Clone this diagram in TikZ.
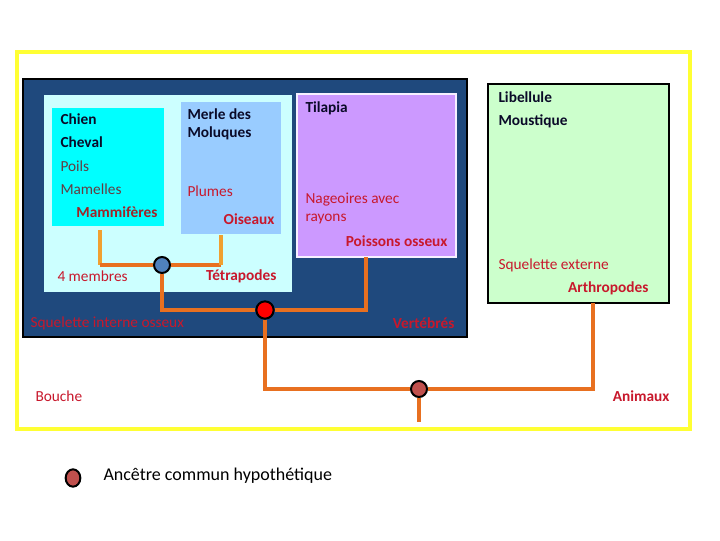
\documentclass[tikz,border=0pt]{standalone}
\usepackage{fontspec}
\setmainfont{Carlito}
\usetikzlibrary{shapes.geometric}
\definecolor{cadre}{RGB}{255,255,51}
\definecolor{bleunuit}{RGB}{31,73,125}
\definecolor{cyanpale}{RGB}{204,255,255}
\definecolor{cyanvif}{RGB}{0,255,255}
\definecolor{bleuciel}{RGB}{153,204,255}
\definecolor{mauve}{RGB}{204,153,255}
\definecolor{vertpale}{RGB}{204,255,204}
\definecolor{orfonce}{RGB}{232,112,32}
\definecolor{orclair}{RGB}{240,160,48}
\definecolor{rouget}{RGB}{200,24,44}
\definecolor{rougesombre}{RGB}{160,36,40}
\definecolor{brunpoil}{RGB}{100,60,65}
\definecolor{encre}{RGB}{10,10,40}
\definecolor{brique}{RGB}{192,80,77}
\definecolor{acier}{RGB}{79,129,189}

\tikzset{every picture/.style={line width=0.75pt}}
\tikzset{
  texte/.style={inner sep=0pt,font=\fontsize{11.5}{14}\selectfont},
  espece/.style={texte,anchor=west,text=encre,font=\fontsize{11.5}{14}\selectfont\bfseries},
  caractere/.style={texte,anchor=west,text=rouget},
  poil/.style={texte,anchor=west,text=brunpoil},
  groupe/.style={texte,anchor=east,text=rouget,font=\fontsize{11.5}{14}\selectfont\bfseries},
  ancetre/.style={circle,draw=black,line width=1.5,minimum size=12,inner sep=0pt},
  branche/.style={draw=orfonce,line width=3},
  tige/.style={draw=orclair,line width=3}
}

\begin{document}
\begin{tikzpicture}[x=0.75pt,y=0.75pt,yscale=-1,xscale=1]
	\useasboundingbox (0,0) rectangle (720,540);

	%Shape: Rectangle [cadre]
	\draw [draw=cadre,line width=3.5,fill=white] (17,52) rectangle (690,429) ;
	%Shape: Rectangle [vertebres]
	\draw [draw=black,line width=1.5,fill=bleunuit] (23,79) rectangle (467,337) ;
	%Shape: Rectangle [tetrapodes]
	\fill [cyanpale] (44,95) rectangle (292,292) ;
	%Shape: Rectangle [mammiferes]
	\fill [cyanvif] (52,108) rectangle (164,226) ;
	%Shape: Rectangle [oiseaux]
	\fill [bleuciel] (181,102) rectangle (281,234) ;
	%Shape: Rectangle [poissons]
	\draw [draw=white!85!mauve,line width=1.5,fill=mauve] (297,94) rectangle (456,257) ;
	%Shape: Rectangle [arthropodes]
	\draw [draw=black,line width=1.5,fill=vertpale] (488,84) rectangle (669,303) ;

	% Ancetres
	\node [ancetre,fill=acier] (anc_tetra) at (162,265) {};
	\node [ancetre,fill=red,minimum size=13] (anc_vert) at (265,310) {};
	\node [ancetre,fill=brique] (anc_anim) at (419,389) {};
	\coordinate (mam) at (100,230);
	\coordinate (ois) at (221,235);
	\coordinate (poi) at (366,257);
	\coordinate (arth) at (593,303);
	\coordinate (racine) at (419,422);

	% Branches
	\draw [tige] (mam) -- (mam |- anc_tetra) ;
	\draw [branche] (mam |- anc_tetra) -- (anc_tetra) ;
	\draw [branche] (anc_tetra) -- (ois |- anc_tetra) ;
	\draw [tige] (ois |- anc_tetra) -- (ois) ;
	\draw [branche] (anc_tetra) |- (anc_vert) ;
	\draw [branche] (anc_vert) -| (poi) ;
	\draw [branche] (anc_vert) |- (anc_anim) ;
	\draw [branche] (anc_anim) -| (arth) ;
	\draw [branche] (anc_anim) -- (racine) ;

	% Text Node
	\node [espece] (chien) at (60,119) {Chien};
	\node [espece] (cheval) at (60,142) {Cheval};
	\node [poil] (poils) at (60,166) {Poils};
	\node [poil] (mamelles) at (60,189) {Mamelles};
	\node [groupe,text=rougesombre] (mammiferes) at (158,212) {Mammifères};
	% Text Node
	\node [espece] (merle) at (187,114) {Merle des};
	\node [espece] (moluques) at (187,133) {Moluques};
	\node [caractere] (plumes) at (187,191) {Plumes};
	\node [groupe] (oiseaux) at (275,219) {Oiseaux};
	% Text Node
	\node [espece] (tilapia) at (305,108) {Tilapia};
	\node [caractere] (nageoires) at (305,200) {Nageoires avec};
	\node [caractere] (rayons) at (305,219) {rayons};
	\node [groupe] (poissons) at (448,241) {Poissons osseux};
	% Text Node
	\node [espece] (libellule) at (498,97) {Libellule};
	\node [espece] (moustique) at (498,121) {Moustique};
	\node [caractere] (squext) at (498,265) {Squelette externe};
	\node [groupe] (arthropodes) at (649,288) {Arthropodes};
	% Text Node
	\node [caractere] (membres) at (57,276) {4 membres};
	\node [groupe] (tetrapodes) at (277,276) {Tétrapodes};
	\node [caractere] (squint) at (30,323) {Squelette interne osseux};
	\node [groupe] (vertebres) at (455,323) {Vertébrés};
	\node [caractere] (bouche) at (35,396) {Bouche};
	\node [groupe] (animaux) at (670,396) {Animaux};

	% Legende
	\node [ancetre,fill=brique,ellipse,minimum width=11,minimum height=13] (leg_anc) at (73,478) {};
	\node [texte,anchor=west,font=\fontsize{13.5}{16}\selectfont] (leg_texte) at (103,476) {Ancêtre commun hypothétique};

\end{tikzpicture}
\end{document}
